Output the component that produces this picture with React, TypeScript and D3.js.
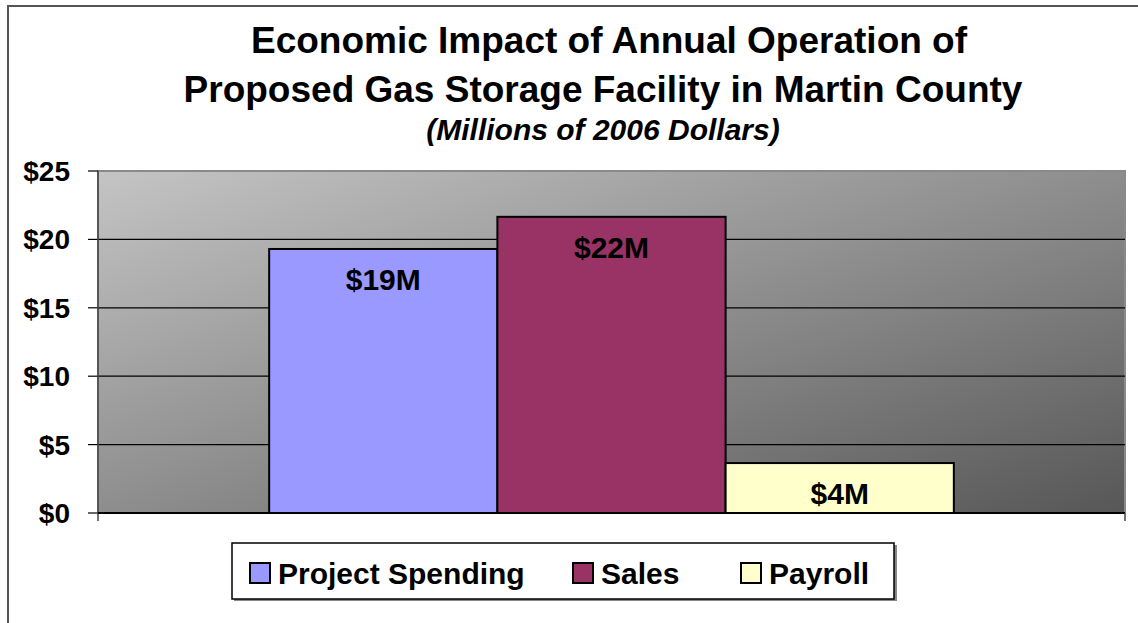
import * as d3 from 'd3';

const category = ['Annual Operation'];
const seriesNames = ['Project Spending', 'Sales', 'Payroll'];
const seriesValues = [19.3, 21.65, 3.65];
const seriesColors = ['#9999FF', '#993366', '#FFFFCC'];
const yTicks = [0, 5, 10, 15, 20, 25];
const titleLines = [
  'Economic Impact of Annual Operation of',
  'Proposed Gas Storage Facility in Martin County',
];
const subtitle = '(Millions of 2006 Dollars)';

const W = 1138;
const H = 623;
const plot = { left: 98, right: 1125, top: 171, bottom: 513 };
const font = '"Liberation Sans", Arial, sans-serif';

function App() {
  const y = d3.scaleLinear().domain([0, 25]).range([plot.bottom, plot.top]);
  const x = d3
    .scaleBand()
    .domain(category)
    .range([plot.left, plot.right])
    .paddingInner(0)
    .paddingOuter(0.25);
  const xs = d3
    .scaleBand()
    .domain(seriesNames)
    .range([0, x.bandwidth()]);

  const groupX = x(category[0]) as number;

  // legend layout: swatch x for each item
  const legendSwatchX = [250, 573, 741];

  return (
    <svg
      width={W}
      height={H}
      style={{ position: 'absolute', left: 0, top: 0, background: '#fff' }}
      fontFamily={font}
    >
      <defs>
        <linearGradient id="plotbg" x1="0" y1="0" x2="1" y2="1">
          <stop offset="0%" stopColor="#c4c4c4" />
          <stop offset="100%" stopColor="#575757" />
        </linearGradient>
      </defs>

      {/* outer chart border */}
      <rect x={8} y={6} width={W + 10} height={H + 10} fill="#fff" stroke="#555" strokeWidth={2} />

      {/* title */}
      <text x={609} y={53} textAnchor="middle" fontSize={37} fontWeight="bold">
        {titleLines[0]}
      </text>
      <text x={603} y={102} textAnchor="middle" fontSize={37} fontWeight="bold">
        {titleLines[1]}
      </text>
      <text x={603} y={140} textAnchor="middle" fontSize={30} fontWeight="bold" fontStyle="italic">
        {subtitle}
      </text>

      {/* plot area */}
      <rect
        x={plot.left}
        y={plot.top}
        width={plot.right - plot.left}
        height={plot.bottom - plot.top}
        fill="url(#plotbg)"
        stroke="#8a8a8a"
        strokeWidth={2}
      />

      {/* gridlines + ticks */}
      {yTicks.map((t) => (
        <g key={t}>
          {t > 0 && t < 25 && (
            <line x1={plot.left} x2={plot.right} y1={y(t)} y2={y(t)} stroke="#000" strokeWidth={1.2} />
          )}
          <line x1={88} x2={plot.left} y1={y(t)} y2={y(t)} stroke="#000" strokeWidth={1.2} />
          <text
            x={70}
            y={y(t)}
            dy="0.36em"
            textAnchor="end"
            fontSize={28}
            fontWeight="bold"
          >
            ${t}
          </text>
        </g>
      ))}

      {/* bars */}
      {seriesNames.map((s, i) => {
        const bx = groupX + (xs(s) as number);
        const by = y(seriesValues[i]);
        return (
          <g key={s}>
            <rect
              x={bx}
              y={by}
              width={xs.bandwidth()}
              height={y(0) - by}
              fill={seriesColors[i]}
              stroke="#000"
              strokeWidth={2}
            />
            <text
              x={bx + xs.bandwidth() / 2}
              y={by + 41}
              textAnchor="middle"
              fontSize={30}
              fontWeight="bold"
            >
              ${Math.round(seriesValues[i])}M
            </text>
          </g>
        );
      })}

      {/* axis line */}
      <line x1={plot.left} x2={plot.left} y1={plot.top} y2={plot.bottom + 8} stroke="#444" strokeWidth={1.5} />
      <line x1={plot.left} x2={plot.right} y1={plot.bottom} y2={plot.bottom} stroke="#000" strokeWidth={2} />
      <line x1={plot.right} x2={plot.right} y1={plot.bottom} y2={plot.bottom + 8} stroke="#444" strokeWidth={1.5} />

      {/* legend */}
      <rect x={234} y={545} width={663} height={56} fill="#888" />
      <rect x={232} y={543} width={662} height={56} fill="#fff" stroke="#000" strokeWidth={1.5} />
      {seriesNames.map((s, i) => (
        <g key={s}>
          <rect
            x={legendSwatchX[i]}
            y={563}
            width={20}
            height={20}
            fill={seriesColors[i]}
            stroke="#000"
            strokeWidth={2}
          />
          <text x={legendSwatchX[i] + 28} y={584} fontSize={30} fontWeight="bold">
            {s}
          </text>
        </g>
      ))}
    </svg>
  );
}

export default App;
